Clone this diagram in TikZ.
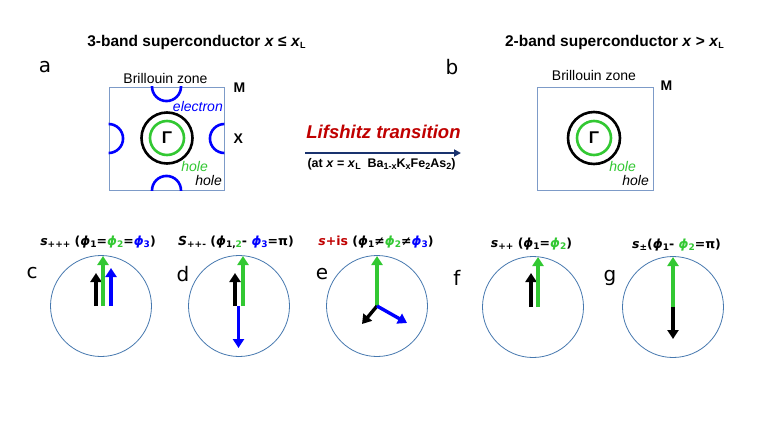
\documentclass[tikz,border=0pt]{standalone}
\usepackage{fontspec}
\setmainfont{Liberation Sans}
\newfontfamily\dvs{DejaVu Sans}
\usetikzlibrary{arrows.meta}
\definecolor{cblue}{RGB}{0,0,255}
\definecolor{cgreen}{RGB}{50,200,50}
\definecolor{cring}{RGB}{70,120,175}
\definecolor{cbox}{RGB}{125,155,200}
\definecolor{cred}{RGB}{192,0,0}
\definecolor{cnavy}{RGB}{25,50,110}
\newcommand\lo[1]{\raisebox{-0.35ex}{\fontsize{9}{9}\selectfont #1}}
\newcommand\ph[1]{\textit{ϕ}\lo{#1}}
\begin{document}
\begin{tikzpicture}[x=1pt,y=-1pt,
  vec/.style={line width=3.4pt,-{Triangle[width=11pt,length=9pt]}},
  ring/.style={circle,draw=cring,line width=0.8pt,minimum size=101pt,inner sep=0pt},
  bz/.style={draw=cbox,line width=0.9pt},
  fsb/.style={draw=black,line width=2.6pt},
  fsg/.style={draw=cgreen,line width=2.6pt},
  fse/.style={draw=cblue,line width=2.6pt},
  plab/.style={font=\dvs\fontsize{20}{20}\selectfont},
  ttl/.style={font=\bfseries\fontsize{15.5}{16}\selectfont,anchor=base},
  bzt/.style={font=\fontsize{14}{14}\selectfont,anchor=base},
  sym/.style={font=\bfseries\fontsize{14}{14}\selectfont,anchor=base west},
  itl/.style={font=\itshape\fontsize{14}{14}\selectfont,anchor=base east,inner sep=0pt},
  stl/.style={font=\dvs\bfseries\fontsize{12.5}{13}\selectfont,anchor=base}]
\useasboundingbox (0,0) rectangle (763,429);
\fill[white] (0,0) rectangle (763,429);

% ---- panel a ----
\node[ttl] (ta) at (196.5,46) {3-band superconductor \textit{x} ≤ \textit{x}\lo{L}};
\node[plab] (la) at (45,67) {a};
\node[bzt] (bza) at (165.5,83) {Brillouin zone};
\node[bz,minimum width=115pt,minimum height=103pt,inner sep=0pt] (boxa) at (166.5,138.5) {};
\begin{scope}
  \clip (boxa.south west) rectangle (boxa.north east);
  \draw[fse] (boxa.north) circle[radius=14.5pt];
  \draw[fse] (boxa.south) circle[radius=14.5pt];
  \draw[fse] (boxa.west) circle[radius=14.5pt];
  \draw[fse] (boxa.east) circle[radius=14.5pt];
\end{scope}
\node[circle,fsb,minimum size=51pt,inner sep=0pt] (hoa) at (167,138) {};
\node[circle,fsg,minimum size=34pt,inner sep=0pt,font=\bfseries\fontsize{17}{17}\selectfont] (hia) at (167,138) {Γ};
\node[sym] (ma) at (230,92) {M};
\node[sym] (xa) at (230,143) {X};
\node[itl,text=cblue] (ea) at (223,111) {electron};
\node[itl,text=cgreen] (hga) at (208,171.5) {hole};
\node[itl] (hka) at (222,185) {hole};

% ---- transition ----
\node[font=\bfseries\itshape\fontsize{18.5}{19}\selectfont,text=cred,anchor=base] (lif) at (383.5,138) {Lifshitz transition};
\coordinate (ar0) at (305,153);
\coordinate (ar1) at (461,153);
\draw[cnavy,line width=2pt,-{Triangle[width=7pt,length=7pt]}] (ar0) -- (ar1);
\node[font=\bfseries\fontsize{12.5}{13}\selectfont,anchor=base] (at) at (381.5,167)
  {(at \textit{x} = \textit{x}\lo{L}\ \ Ba\lo{1-x}K\lo{x}Fe\lo{2}As\lo{2})};

% ---- panel b ----
\node[ttl] (tb) at (614.5,46) {2-band superconductor \textit{x} > \textit{x}\lo{L}};
\node[plab] (lb) at (452,67) {b};
\node[bzt] (bzb) at (594,80) {Brillouin zone};
\node[bz,minimum width=116pt,minimum height=103pt,inner sep=0pt] (boxb) at (595,138.5) {};
\node[circle,fsb,minimum size=52pt,inner sep=0pt] (hob) at (594,138) {};
\node[circle,fsg,minimum size=34pt,inner sep=0pt,font=\bfseries\fontsize{17}{17}\selectfont] (hib) at (594,138) {Γ};
\node[sym] (mb) at (657,90) {M};
\node[itl,text=cgreen] (hgb) at (636,171.5) {hole};
\node[itl] (hkb) at (649,185) {hole};

% ---- panel c ----
\node[plab] (lc) at (32,273) {c};
\node[stl] (tc) at (98,245) {\textit{s}\lo{+++} (\ph{1}=\textcolor{cgreen}{\ph{2}}=\textcolor{cblue}{\ph{3}})};
\node[ring] (rc) at (101,306) {};
\coordinate (c1) at (96,306);  \coordinate (c1e) at (96,273);
\coordinate (c2) at (103,306); \coordinate (c2e) at (103,256);
\coordinate (c3) at (111,306); \coordinate (c3e) at (111,268);
\draw[vec,black] (c1) -- (c1e);
\draw[vec,cgreen] (c2) -- (c2e);
\draw[vec,cblue] (c3) -- (c3e);

% ---- panel d ----
\node[plab] (ld) at (183,274) {d};
\node[stl] (td) at (236,245) {\textit{S}\lo{++-} (\ph{1,\textcolor{cgreen}{2}}- \textcolor{cblue}{\ph{3}}=π)};
\node[ring] (rd) at (239,306) {};
\coordinate (d1) at (235,306);  \coordinate (d1e) at (235,273);
\coordinate (d2) at (243,306);  \coordinate (d2e) at (243,256);
\coordinate (d3) at (238.5,306);\coordinate (d3e) at (238.5,348);
\draw[vec,black] (d1) -- (d1e);
\draw[vec,cgreen] (d2) -- (d2e);
\draw[vec,cblue] (d3) -- (d3e);

% ---- panel e ----
\node[plab] (le) at (322,274) {e};
\node[stl] (te) at (376,245) {\textcolor{cred}{\textit{s}+is} (\ph{1}≠\textcolor{cgreen}{\ph{2}}≠\textcolor{cblue}{\ph{3}})};
\node[ring] (re) at (377,306) {};
\coordinate (e0) at (377,306);
\coordinate (e1e) at (362,324);
\coordinate (e2e) at (377,256);
\coordinate (e3e) at (407,323);
\draw[vec,cgreen] (e0) -- (e2e);
\draw[vec,black] (e0) -- (e1e);
\draw[vec,cblue] (e0) -- (e3e);

% ---- panel f ----
\node[plab] (lf) at (457,278) {f};
\node[stl] (tf) at (531.5,247) {\textit{s}\lo{++} (\ph{1}=\textcolor{cgreen}{\ph{2}})};
\node[ring] (rf) at (533,307) {};
\coordinate (f1) at (531,307);  \coordinate (f1e) at (531,273);
\coordinate (f2) at (538,307);  \coordinate (f2e) at (538,257);
\draw[vec,black] (f1) -- (f1e);
\draw[vec,cgreen] (f2) -- (f2e);

% ---- panel g ----
\node[plab] (lg) at (610,278) {g};
\node[stl] (tg) at (676.5,248) {\textit{s}\lo{±}(\ph{1}- \textcolor{cgreen}{\ph{2}}=π)};
\node[ring] (rg) at (673,307) {};
\coordinate (g0) at (673,307);
\coordinate (g1e) at (673,339);
\coordinate (g2e) at (673,257);
\draw[vec,cgreen] (g0) -- (g2e);
\draw[vec,black] (g0) -- (g1e);
\end{tikzpicture}
\end{document}
